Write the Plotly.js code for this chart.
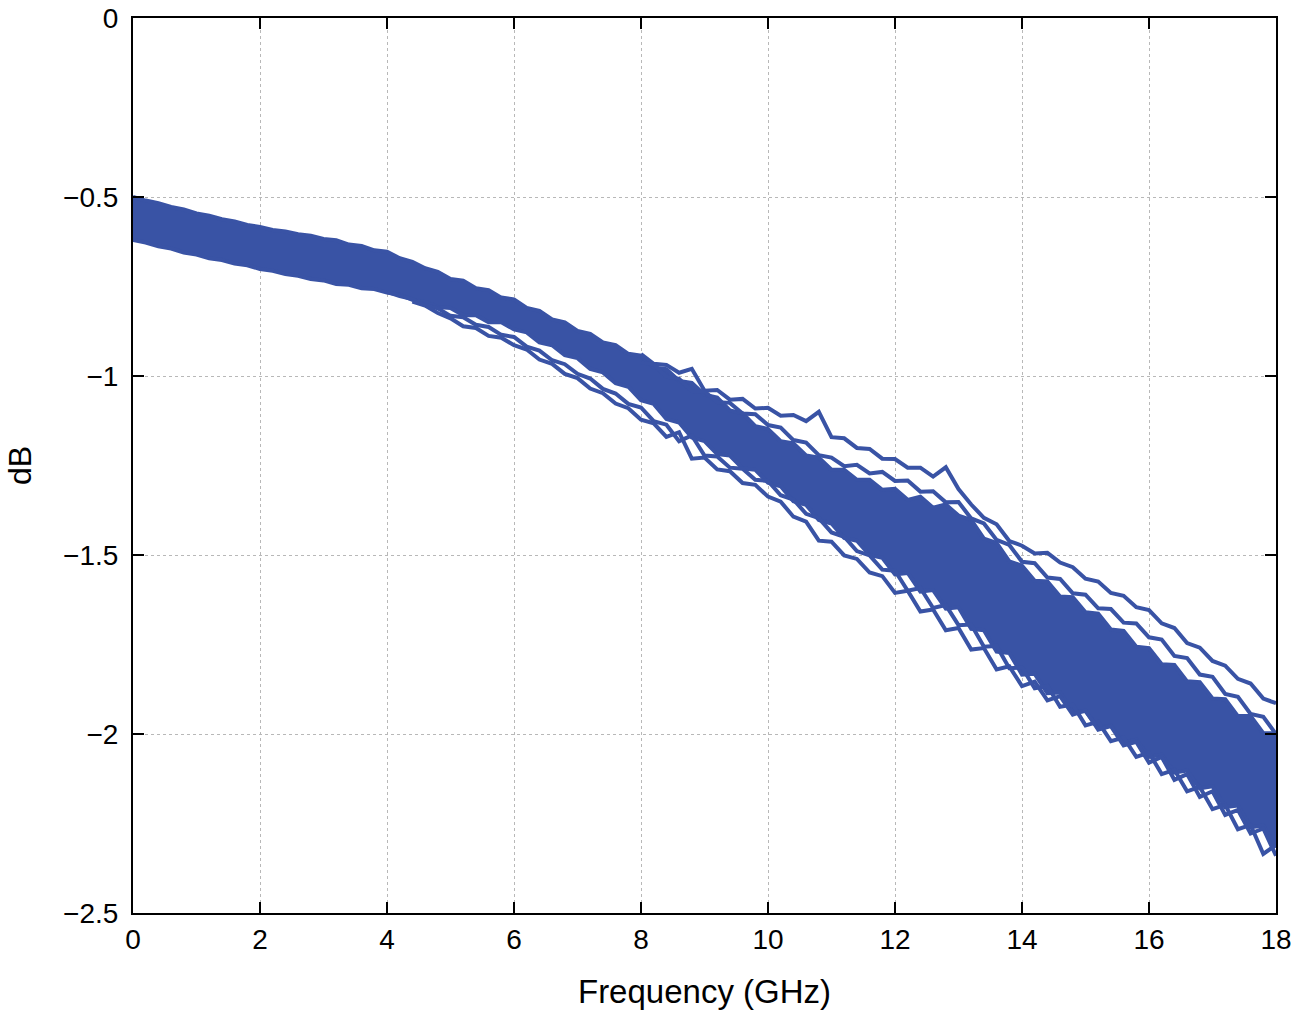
<!DOCTYPE html>
<html>
<head>
<meta charset="utf-8">
<script src="https://cdn.plot.ly/plotly-3.0.1.min.js"></script>
<style>
  html, body { margin: 0; padding: 0; background: #fff; }
  #chart { width: 1296px; height: 1013px; }
</style>
</head>
<body>
<div id="chart"></div>
<script>
// Frequency grid (GHz)
const freq = [
  0.0, 0.2, 0.4, 0.6, 0.8, 1.0, 1.2, 1.4, 1.6, 1.8,
  2.0, 2.2, 2.4, 2.6, 2.8, 3.0, 3.2, 3.4, 3.6, 3.8,
  4.0, 4.2, 4.4, 4.6, 4.8, 5.0, 5.2, 5.4, 5.6, 5.8,
  6.0, 6.2, 6.4, 6.6, 6.8, 7.0, 7.2, 7.4, 7.6, 7.8,
  8.0, 8.2, 8.4, 8.6, 8.8, 9.0, 9.2, 9.4, 9.6, 9.8,
  10.0, 10.2, 10.4, 10.6, 10.8, 11.0, 11.2, 11.4, 11.6, 11.8,
  12.0, 12.2, 12.4, 12.6, 12.8, 13.0, 13.2, 13.4, 13.6, 13.8,
  14.0, 14.2, 14.4, 14.6, 14.8, 15.0, 15.2, 15.4, 15.6, 15.8,
  16.0, 16.2, 16.4, 16.6, 16.8, 17.0, 17.2, 17.4, 17.6, 17.8,
  18.0
];

// upper edge of the main bundle of curves (dB)
const bandTop = [
  -0.500, -0.510, -0.517, -0.528, -0.535, -0.546, -0.552, -0.562, -0.568, -0.578,
  -0.584, -0.592, -0.596, -0.604, -0.608, -0.617, -0.621, -0.633, -0.637, -0.649,
  -0.653, -0.671, -0.681, -0.699, -0.709, -0.729, -0.734, -0.755, -0.760, -0.781,
  -0.786, -0.810, -0.818, -0.842, -0.850, -0.874, -0.882, -0.906, -0.914, -0.938,
  -0.943, -0.976, -0.981, -1.014, -1.019, -1.052, -1.060, -1.096, -1.104, -1.140,
  -1.148, -1.182, -1.188, -1.222, -1.228, -1.262, -1.262, -1.290, -1.290, -1.318,
  -1.315, -1.346, -1.337, -1.368, -1.359, -1.390, -1.402, -1.454, -1.466, -1.518,
  -1.530, -1.572, -1.574, -1.616, -1.618, -1.660, -1.664, -1.708, -1.712, -1.756,
  -1.760, -1.805, -1.807, -1.853, -1.855, -1.901, -1.903, -1.950, -1.950, -1.998,
  -1.998
];

// lower edge of the main bundle (dB)
const bandBot = [
  -0.620, -0.627, -0.638, -0.644, -0.655, -0.661, -0.671, -0.676, -0.686, -0.691,
  -0.701, -0.706, -0.715, -0.720, -0.729, -0.733, -0.743, -0.745, -0.755, -0.757,
  -0.767, -0.773, -0.787, -0.793, -0.807, -0.810, -0.830, -0.830, -0.850, -0.850,
  -0.870, -0.878, -0.906, -0.914, -0.942, -0.950, -0.980, -0.990, -1.020, -1.030,
  -1.068, -1.078, -1.120, -1.130, -1.172, -1.182, -1.218, -1.222, -1.258, -1.262,
  -1.298, -1.308, -1.350, -1.360, -1.402, -1.412, -1.452, -1.460, -1.500, -1.508,
  -1.554, -1.550, -1.602, -1.598, -1.650, -1.646, -1.706, -1.710, -1.770, -1.774,
  -1.834, -1.832, -1.886, -1.884, -1.938, -1.936, -1.984, -1.976, -2.024, -2.016,
  -2.064, -2.058, -2.108, -2.102, -2.152, -2.146, -2.204, -2.200, -2.260, -2.256,
  -2.316
];

// two curves that leave the bundle on the high side (from 8 GHz)
const upper1 = [
  -0.939, -0.966, -0.969, -0.991, -0.980, -1.041, -1.039, -1.066, -1.064, -1.091,
  -1.089, -1.111, -1.109, -1.126, -1.100, -1.171, -1.174, -1.201, -1.204, -1.231,
  -1.232, -1.256, -1.256, -1.281, -1.255, -1.316, -1.359, -1.396, -1.414, -1.461,
  -1.474, -1.496, -1.494, -1.521, -1.534, -1.566, -1.574, -1.606, -1.614, -1.646,
  -1.654, -1.691, -1.704, -1.746, -1.759, -1.796, -1.809, -1.846, -1.859, -1.901,
  -1.914
];
const upper2 = [
  -0.962, -0.968, -1.002, -1.008, -1.042, -1.043, -1.073, -1.075, -1.105, -1.107,
  -1.137, -1.144, -1.179, -1.186, -1.221, -1.228, -1.252, -1.248, -1.272, -1.268,
  -1.293, -1.292, -1.323, -1.322, -1.353, -1.352, -1.398, -1.412, -1.458, -1.472,
  -1.519, -1.523, -1.563, -1.567, -1.607, -1.611, -1.649, -1.651, -1.689, -1.691,
  -1.730, -1.736, -1.782, -1.788, -1.834, -1.840, -1.888, -1.896, -1.944, -1.952,
  -2.000
];

// two curves that run below the bundle (from 4.0 GHz and 4.4 GHz)
const lower1 = [
  -0.765, -0.777, -0.785, -0.802, -0.811, -0.832, -0.836, -0.857, -0.863, -0.885,
  -0.891, -0.918, -0.929, -0.956, -0.967, -0.994, -1.007, -1.036, -1.049, -1.078,
  -1.088, -1.126, -1.136, -1.182, -1.166, -1.222, -1.225, -1.256, -1.259, -1.290,
  -1.293, -1.333, -1.345, -1.385, -1.397, -1.437, -1.449, -1.489, -1.501, -1.541,
  -1.544, -1.600, -1.592, -1.648, -1.640, -1.696, -1.694, -1.756, -1.754, -1.816,
  -1.814, -1.872, -1.866, -1.924, -1.918, -1.976, -1.966, -2.020, -2.010, -2.064,
  -2.052, -2.112, -2.100, -2.160, -2.148, -2.210, -2.198, -2.266, -2.254, -2.335,
  -2.310
];
const lower2 = [
  -0.792, -0.803, -0.824, -0.839, -0.861, -0.866, -0.888, -0.893, -0.914, -0.926,
  -0.954, -0.966, -0.994, -1.006, -1.035, -1.048, -1.077, -1.090, -1.122, -1.132,
  -1.170, -1.157, -1.231, -1.228, -1.261, -1.266, -1.299, -1.304, -1.337, -1.351,
  -1.393, -1.407, -1.460, -1.463, -1.501, -1.511, -1.549, -1.559, -1.606, -1.600,
  -1.658, -1.652, -1.710, -1.704, -1.764, -1.760, -1.820, -1.811, -1.866, -1.854,
  -1.906, -1.894, -1.946, -1.934, -1.988, -1.978, -2.032, -2.022, -2.080, -2.064,
  -2.128, -2.112, -2.176, -2.160, -2.226, -2.212, -2.278, -2.264, -2.340
];

const BLUE = '#3953a5';
const LW = 4;
const FONT = 'Liberation Sans, Arial, sans-serif';

function curve(x, y, extra) {
  return Object.assign({
    x: x, y: y,
    type: 'scatter',
    mode: 'lines',
    line: { color: BLUE, width: LW },
    hoverinfo: 'skip',
    showlegend: false,
  }, extra || {});
}

const traces = [
  curve(freq, bandTop),
  curve(freq, bandBot, { fill: 'tonexty', fillcolor: BLUE }),
  curve(freq.slice(40), upper1),
  curve(freq.slice(40), upper2),
  curve(freq.slice(20), lower1),
  curve(freq.slice(22), lower2),
];

const axisBase = {
  showline: true,
  linecolor: '#000',
  linewidth: 2,
  mirror: 'ticks',
  ticks: 'inside',
  ticklen: 11,
  tickwidth: 2,
  tickcolor: '#000',
  showgrid: true,
  gridcolor: '#b8b8b8',
  gridwidth: 1,
  griddash: 'dot',
  zeroline: false,
  tickfont: { family: FONT, size: 28, color: '#000' },
};

const layout = {
  width: 1296,
  height: 1013,
  margin: { l: 133, r: 20, t: 18, b: 100 },
  plot_bgcolor: '#fff',
  paper_bgcolor: '#fff',
  xaxis: {
    ...axisBase,
    range: [0, 18],
    tickvals: [0, 2, 4, 6, 8, 10, 12, 14, 16, 18],
    title: { text: 'Frequency (GHz)', standoff: 26,
             font: { family: FONT, size: 33, color: '#000' } },
  },
  yaxis: {
    ...axisBase,
    range: [-2.5, 0],
    tickvals: [-2.5, -2, -1.5, -1, -0.5, 0],
    ticktext: ['\u22122.5', '\u22122', '\u22121.5', '\u22121', '\u22120.5', '0'],
    ticklabelstandoff: 7,
    title: { text: 'dB', standoff: 22,
             font: { family: FONT, size: 32, color: '#000' } },
  },
};

Plotly.newPlot('chart', traces, layout, { displayModeBar: false, staticPlot: true });
</script>
</body>
</html>
